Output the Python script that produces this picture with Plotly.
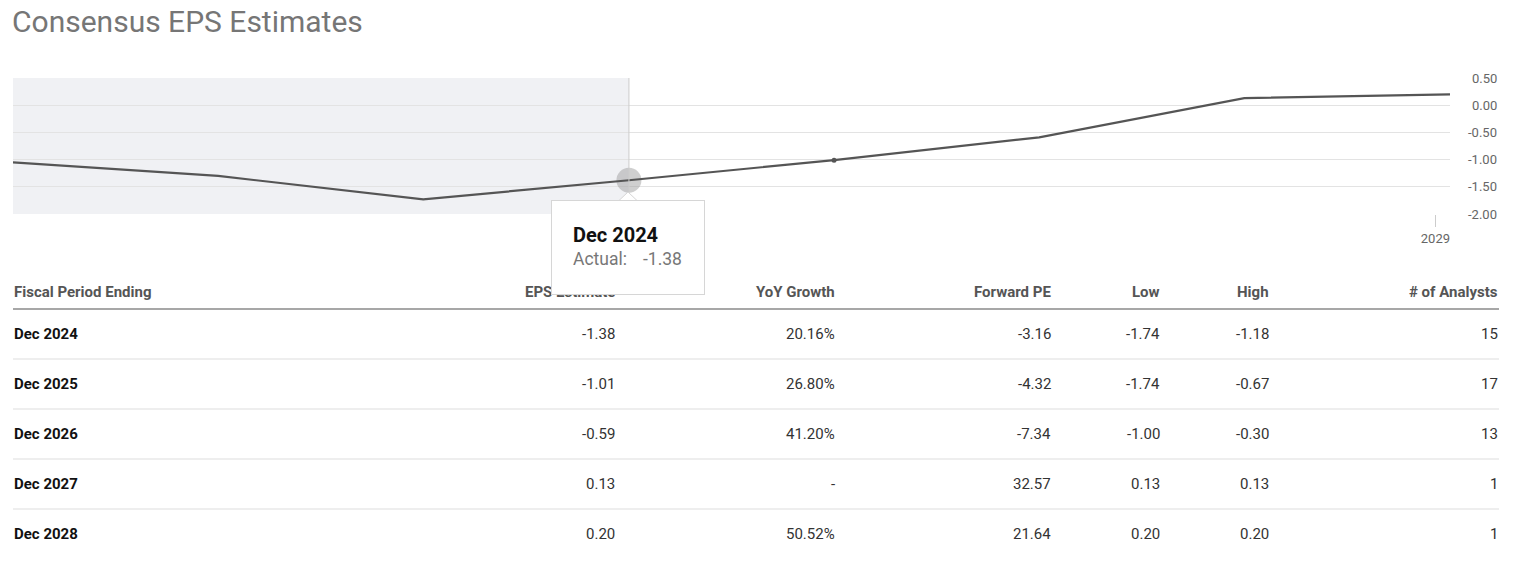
import plotly.graph_objects as go

# ---------------- data ----------------
chart_dates = ["2021-12-31", "2022-12-31", "2023-12-31", "2024-12-31",
               "2025-12-31", "2026-12-31", "2027-12-31", "2028-12-31"]
chart_eps = [-1.05, -1.30, -1.73, -1.38, -1.01, -0.59, 0.13, 0.20]

y_ticks = [0.5, 0.0, -0.5, -1.0, -1.5, -2.0]
x_tick_vals = ["2028-12-05"]
x_tick_text = ["2029"]

hover_date = "2024-12-31"
hover_value = -1.38
hover_label = "Dec 2024"
hover_kind = "Actual:"
marker_date = "2025-12-31"
marker_value = -1.01

columns = ["Fiscal Period Ending", "EPS Estimate", "YoY Growth", "Forward PE",
           "Low", "High", "# of Analysts"]
periods = ["Dec 2024", "Dec 2025", "Dec 2026", "Dec 2027", "Dec 2028"]
eps_est = [-1.38, -1.01, -0.59, 0.13, 0.20]
yoy_growth = ["20.16%", "26.80%", "41.20%", "-", "50.52%"]
forward_pe = [-3.16, -4.32, -7.34, 32.57, 21.64]
low = [-1.74, -1.74, -1.00, 0.13, 0.20]
high = [-1.18, -0.67, -0.30, 0.13, 0.20]
analysts = [15, 17, 13, 1, 1]

# ---------------- layout helpers ----------------
W, H = 1523, 573
def px(x):
    return x / W
def py(y):
    return 1 - y / H

FONT = "Roboto"

def txt(text, x, y, size, color, xanchor="left", yref="paper"):
    return dict(text=text, x=x, y=y, xref="paper", yref=yref,
                xanchor=xanchor, yanchor="middle", showarrow=False,
                borderpad=0, borderwidth=0,
                font=dict(family=FONT, size=size, color=color))

fig = go.Figure()

# hover circle (drawn under line)
fig.add_trace(go.Scatter(
    x=[hover_date], y=[hover_value], mode="markers",
    marker=dict(size=25, color="rgba(160,160,160,0.5)", line=dict(width=0)),
    hoverinfo="skip", showlegend=False))

# main line
fig.add_trace(go.Scatter(
    x=chart_dates, y=chart_eps, mode="lines",
    line=dict(color="#555555", width=2.2),
    hoverinfo="skip", showlegend=False))

# small marker
fig.add_trace(go.Scatter(
    x=[marker_date], y=[marker_value], mode="markers",
    marker=dict(size=5, color="#555555"),
    hoverinfo="skip", showlegend=False))

shapes = []
# shaded actual region
shapes.append(dict(type="rect", xref="x", yref="y domain",
                   x0=chart_dates[0], x1=hover_date, y0=0, y1=1,
                   fillcolor="#f0f1f4", line=dict(width=0), layer="below"))
# crosshair
shapes.append(dict(type="line", xref="x", yref="y domain",
                   x0=hover_date, x1=hover_date, y0=0, y1=1,
                   line=dict(color="#cccccc", width=1), layer="above"))

annotations = []
# title
annotations.append(txt("Consensus EPS Estimates", px(12), py(22), 30, "#767676"))

# y tick labels on the right, right aligned
for v in y_ticks:
    annotations.append(txt(f"{v:.2f}", px(1497), v, 13, "#666666",
                           xanchor="right", yref="y"))

# table
col_x = [14, 615, 835, 1051, 1160, 1269, 1498]
header_y = 292
row_y0 = 334
row_step = 50
for i, c in enumerate(columns):
    annotations.append(txt(f"<b>{c}</b>", px(col_x[i]), py(header_y), 15, "#555555",
                           xanchor="left" if i == 0 else "right"))

rows = list(zip(periods,
                [f"{v:.2f}" for v in eps_est],
                yoy_growth,
                [f"{v:.2f}" for v in forward_pe],
                [f"{v:.2f}" for v in low],
                [f"{v:.2f}" for v in high],
                [str(v) for v in analysts]))
for r, row in enumerate(rows):
    yy = row_y0 + r * row_step
    for i, val in enumerate(row):
        if i == 0:
            annotations.append(txt(f"<b>{val}</b>", px(col_x[i]), py(yy), 15, "#111111"))
        else:
            annotations.append(txt(val, px(col_x[i]), py(yy), 15, "#333333",
                                   xanchor="right"))

# table separators
shapes.append(dict(type="line", xref="paper", yref="paper",
                   x0=px(13), x1=px(1499), y0=py(309), y1=py(309),
                   line=dict(color="#8a8a8a", width=1.5)))
for r in range(len(periods) - 1):
    yy = row_y0 + r * row_step + 25
    shapes.append(dict(type="line", xref="paper", yref="paper",
                       x0=px(13), x1=px(1499), y0=py(yy), y1=py(yy),
                       line=dict(color="#dddddd", width=1)))

# tooltip pointer
shapes.append(dict(type="path", xref="paper", yref="paper",
                   path=f"M {px(619)},{py(200.5)} L {px(628)},{py(192)} L {px(637)},{py(200.5)} Z",
                   fillcolor="white", line=dict(color="#d6d6d6", width=1), layer="above"))

# tooltip box (drawn after table header so it covers it)
annotations.append(dict(text=" ", x=px(551), y=py(200), xref="paper", yref="paper",
                        xanchor="left", yanchor="top", showarrow=False,
                        width=152, height=93, borderpad=0, borderwidth=1,
                        bordercolor="#d6d6d6", bgcolor="white",
                        font=dict(family=FONT, size=12)))
annotations.append(txt(f"<b>{hover_label}</b>", px(573), py(235), 20, "#111111"))
annotations.append(txt(hover_kind, px(573), py(259), 17.5, "#777777"))
annotations.append(txt(f"{hover_value:.2f}", px(643), py(259), 17.5, "#777777"))

fig.update_layout(
    width=W, height=H,
    margin=dict(l=0, r=0, t=0, b=0),
    paper_bgcolor="white", plot_bgcolor="white",
    showlegend=False,
    font=dict(family=FONT),
    xaxis=dict(domain=[px(13), px(1450)], type="date",
               range=[chart_dates[0], chart_dates[-1]],
               tickvals=x_tick_vals, ticktext=x_tick_text,
               ticks="outside", ticklen=12, tickcolor="#cccccc", tickwidth=1,
               showgrid=False, zeroline=False, showline=False,
               tickfont=dict(family=FONT, size=13, color="#666666"),
               fixedrange=True),
    yaxis=dict(domain=[py(214), py(78)], range=[-2.0, 0.5],
               tickvals=y_ticks, showticklabels=False,
               showgrid=True, gridcolor="#e3e3e3", gridwidth=1,
               zeroline=False, showline=False, fixedrange=True),
    shapes=shapes,
    annotations=annotations,
)

fig.write_html("out.html")
